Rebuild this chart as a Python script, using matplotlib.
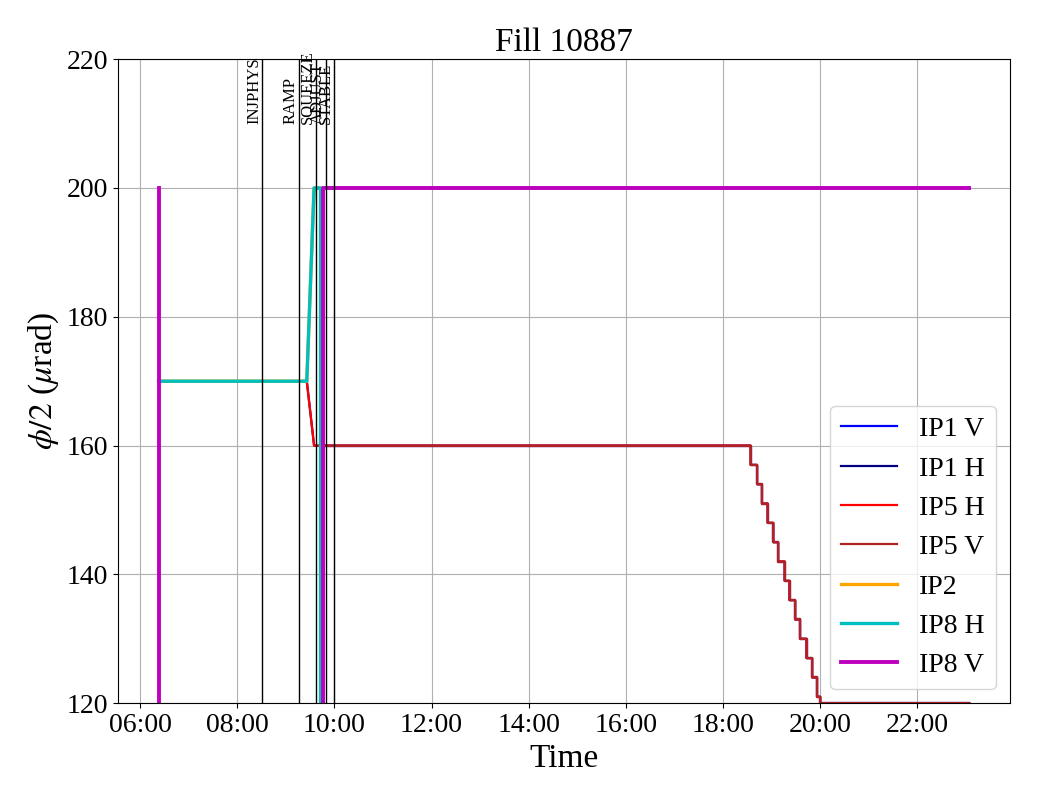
import matplotlib
matplotlib.use("Agg")
import matplotlib.pyplot as plt
import matplotlib.dates as mdates
import pandas as pd

plt.rcParams["font.family"] = ["Liberation Serif", "DejaVu Serif"]
plt.rcParams["mathtext.fontset"] = "stix"

DAY = "2025-07-27 "

# crossing angle half values (urad), time -> value, off values below the axis are 0
ip5h_t = ["06:23", "09:26", "09:35"]
ip5h_v = [170, 170, 160]
ip5v_t = ["06:23", "09:45", "09:45"]
ip5v_v = [0, 0, 160]

# end of fill levelling steps (same for IP1 and IP5)
step_t = ["18:34", "18:42", "18:48", "18:55", "19:02", "19:08", "19:16",
          "19:22", "19:29", "19:35", "19:43", "19:50", "19:56", "20:00"]
step_v = [157, 154, 151, 148, 145, 142, 139, 136, 133, 130, 127, 124, 121, 120]
end_t = "23:04"

ip8h_t = ["06:23", "09:26", "09:35", "09:43", "09:43", "09:46", "09:46", "23:04"]
ip8h_v = [170, 170, 200, 200, 0, 0, 200, 200]
ip8v_t = ["06:23", "06:23", "09:46", "09:46", "23:04"]
ip8v_v = [200, 0, 0, 200, 200]

mode_names = ["INJPHYS", "RAMP", "SQUEEZE", "ADJUST", "STABLE"]
mode_times = ["08:31", "09:16", "09:37", "09:50", "10:00"]


def to_time(lst):
    return list(pd.to_datetime([DAY + s for s in lst]))


def with_steps(times, values):
    xs, ys = to_time(times), list(values)
    for tt, v in zip(to_time(step_t), step_v):
        xs += [tt, tt]
        ys += [ys[-1], v]
    xs.append(to_time([end_t])[0])
    ys.append(ys[-1])
    return xs, ys


ip5h_x, ip5h_y = with_steps(ip5h_t, ip5h_v)
ip5v_x, ip5v_y = with_steps(ip5v_t, ip5v_v)

fig, ax = plt.subplots(figsize=(10.4, 8), dpi=100)
fig.subplots_adjust(left=0.1135, right=0.971, bottom=0.121, top=0.926)

ax.plot(ip5v_x, ip5v_y, color="blue", lw=1.6, label="IP1 V")
ax.plot(ip5h_x, ip5h_y, color="navy", lw=1.6, label="IP1 H")
ax.plot(ip5h_x, ip5h_y, color="red", lw=1.6, label="IP5 H")
ax.plot(ip5v_x, ip5v_y, color="firebrick", lw=1.6, label="IP5 V")
ax.plot(to_time(ip8h_t), ip8h_v, color="orange", lw=2.4, label="IP2")
ax.plot(to_time(ip8h_t), ip8h_v, color="c", lw=2.4, label="IP8 H")
ax.plot(to_time(ip8v_t), ip8v_v, color="m", lw=2.8, label="IP8 V")

for name, tt in zip(mode_names, to_time(mode_times)):
    ax.axvline(tt, color="k", lw=1)
    ax.text(tt, 210, name, rotation=90, ha="right", va="bottom", fontsize=12)

ax.set_ylim(120, 220)
ax.xaxis.set_major_locator(mdates.HourLocator(byhour=range(0, 24, 2)))
ax.xaxis.set_major_formatter(mdates.DateFormatter("%H:%M"))
ax.tick_params(labelsize=20)
ax.grid(True)
ax.set_title("Fill 10887", fontsize=24)
ax.set_xlabel("Time", fontsize=24)
ax.set_ylabel(r"$\phi/2$ ($\mu$rad)", fontsize=24)
ax.legend(loc="lower right", fontsize=20)

fig.savefig("out.png", dpi=100)
plt.close()
